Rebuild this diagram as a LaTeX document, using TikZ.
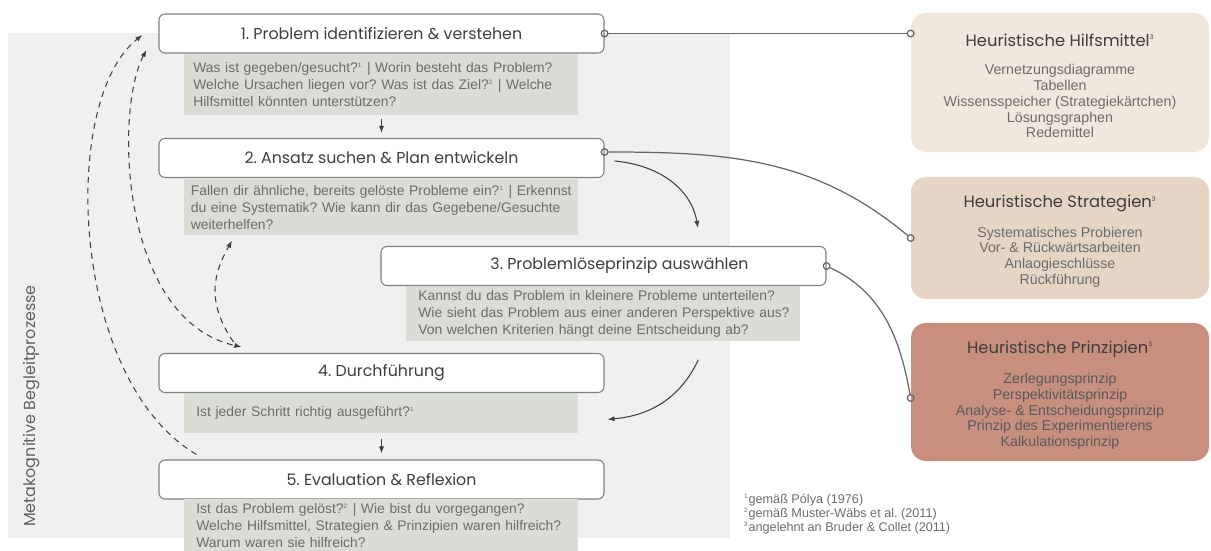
\documentclass[tikz,border=0pt]{standalone}
\usepackage{fontspec}
\setmainfont{Liberation Sans}
\newfontfamily\headfont{Poppins}
\usetikzlibrary{positioning}
\usetikzlibrary{arrows.meta}
\usepackage{xcolor}

\definecolor{bgcol}{HTML}{F0F0F0}
\definecolor{qcol}{HTML}{DADDD6}
\definecolor{framecol}{HTML}{7B817B}
\definecolor{linecol}{HTML}{666666}
\definecolor{headcol}{HTML}{3E3E3E}
\definecolor{txtcol}{HTML}{6C6C6C}
\definecolor{hilfcol}{HTML}{F1E7DD}
\definecolor{stratcol}{HTML}{E6D5C4}
\definecolor{prinzcol}{HTML}{C98F7E}

\newcommand{\fnmark}[1]{\textsuperscript{\fontsize{3.6}{4}\selectfont #1}}
\frenchspacing

\begin{document}
\begin{tikzpicture}[x=0.2mm, y=-0.2mm,
    stepbox/.style={draw=framecol, line width=0.6pt, fill=white, rounded corners=1.2mm, minimum width=89mm, minimum height=7.8mm, text=headcol, font=\headfont\fontsize{9}{10}\selectfont},
    qbox/.style={fill=qcol, anchor=north west, minimum width=78.8mm, inner xsep=2.4mm, inner ysep=0pt, text width=74mm, align=left, text=txtcol, font=\fontsize{7.9}{9.7}\selectfont},
    heurbox/.style={rounded corners=3mm, minimum width=59.6mm, align=center, text=txtcol, font=\fontsize{8.1}{9}\selectfont},
    link/.style={draw=linecol, line width=0.7pt, {Circle[open,length=4.5pt]}-{Circle[open,length=4.5pt]}, shorten <=-2.25pt, shorten >=-2.25pt},
    flow/.style={draw=black!75, line width=0.6pt, -{Latex[length=4pt,width=3pt]}},
    back/.style={flow, dash pattern=on 3.4pt off 2.8pt}]
    \useasboundingbox (0,0) rectangle (1211,551);
    \fill[bgcol] (8,33) rectangle (730,538);

    \node[rotate=90, text=black!62, font=\headfont\fontsize{9.1}{11}\selectfont] (meta) at (32,406) {Metakognitive Begleitprozesse};

    \node[stepbox] (s1) at (381.5,33.5) {1. Problem identifizieren \& verstehen};
    \node[qbox, minimum height=12.2mm, inner xsep=1.8mm, text width=75.2mm] (q1) at (184,54) {\mbox{Was ist gegeben/gesucht?\fnmark{1} | Worin besteht das Problem?}\\ \mbox{Welche Ursachen liegen vor? Was ist das Ziel?\fnmark{2} | Welche}\\ Hilfsmittel könnten unterstützen?};
    \node[stepbox] (s2) at (381.5,158) {2. Ansatz suchen \& Plan entwickeln};
    \node[qbox, minimum height=11.2mm, inner xsep=1.3mm, text width=76.2mm] (q2) at (184,179) {\mbox{Fallen dir ähnliche, bereits gelöste Probleme ein?\fnmark{1} | Erkennst}\\ \mbox{du eine Systematik? Wie kann dir das Gegebene/Gesuchte}\\ weiterhelfen?};
    \node[stepbox] (s3) at (603.5,266) {\hspace*{6.4mm}3. Problemlöseprinzip auswählen};
    \node[qbox, minimum height=11mm] (q3) at (406,286) {\mbox{Kannst du das Problem in kleinere Probleme unterteilen?}\\ \mbox{Wie sieht das Problem aus einer anderen Perspektive aus?}\\ \mbox{Von welchen Kriterien hängt deine Entscheidung ab?}};
    \node[stepbox] (s4) at (381.5,373) {4. Durchführung};
    \node[qbox, minimum height=8mm] (q4) at (184,393) {Ist jeder Schritt richtig ausgeführt?\fnmark{1}};
    \node[stepbox] (s5) at (381.5,479.5) {5. Evaluation \& Reflexion};
    \node[qbox, minimum height=10.4mm] (q5) at (184,499) {\mbox{Ist das Problem gelöst?\fnmark{2} | Wie bist du vorgegangen?}\\ \mbox{Welche Hilfsmittel, Strategien \& Prinzipien waren hilfreich?}\\ Warum waren sie hilfreich?};

    \node[heurbox, fill=hilfcol, minimum height=27.8mm] (hm) at (1060,82.5) {{\headfont\fontsize{9.3}{11}\selectfont\color{headcol}\rule{0pt}{11pt}Heuristische Hilfsmittel\fnmark{3}}\\[2.5mm]
        Vernetzungsdiagramme\\ Tabellen\\ Wissensspeicher (Strategiekärtchen)\\ Lösungsgraphen\\ Redemittel};
    \node[heurbox, fill=stratcol, minimum height=24.4mm] (hs) at (1060,238) {{\headfont\fontsize{9.3}{11}\selectfont\color{headcol}\rule{0pt}{11pt}Heuristische Strategien\fnmark{3}}\\[2.7mm]
        Systematisches Probieren\\ Vor- \& Rückwärtsarbeiten\\ Anlaogieschlüsse\\ Rückführung};
    \node[heurbox, fill=prinzcol, text=black!65, minimum height=27.6mm] (hp) at (1060,392) {{\headfont\fontsize{9.3}{11}\selectfont\color{headcol}\rule{0pt}{11pt}Heuristische Prinzipien\fnmark{3}}\\[2.8mm]
        Zerlegungsprinzip\\ Perspektivitätsprinzip\\ Analyse- \& Entscheidungsprinzip\\ Prinzip des Experimentierens\\ Kalkulationsprinzip};

    \node[anchor=west, align=left, text=txtcol, font=\fontsize{7.2}{6.8}\selectfont] (refs) at (738,514) {\lineskiplimit=-5pt\relax\fnmark{1}gemäß Pólya (1976)\\ \fnmark{2}gemäß Muster-Wäbs et al. (2011)\\ \fnmark{3}angelehnt an Bruder \& Collet (2011)};

    % Verbindungen zu den Heuristiken
    \coordinate (hm-in) at (hm.west |- s1.east);
    \draw[link] (s1.east) -- (hm-in);
    \draw[link] ([yshift=1.2mm]s2.east) to[out=0, in=140] (hs.west);
    \draw[link] (s3.east) to[out=-25, in=100] ([yshift=-1.2mm]hp.west);

    % Ablauf
    \draw[flow, shorten <=0.6mm, shorten >=1mm] (s1.center |- q1.south) -- (s2.north);
    \draw[flow, shorten <=1mm, shorten >=1.2mm] (s4.center |- q4.south) -- (s5.north);
    \draw[flow] ([xshift=2mm,yshift=-0.6mm]s2.east) to[out=-5, in=100] ([xshift=18.9mm,yshift=3.6mm]s3.north);
    \draw[flow] ([xshift=19mm,yshift=-3.6mm]q3.south) to[out=-115, in=5] ([xshift=0.6mm,yshift=-1.2mm]s4.east |- q4.east);

    % Begleitprozesse
    \draw[back] ([xshift=7.6mm,yshift=1mm]s5.north west) .. controls +(-127,-75) and +(-83,65) .. ([xshift=-3.2mm,yshift=-0.3mm]s1.west);
    \draw[back, {Latex[length=4pt,width=3pt]}-{Latex[length=4pt,width=3pt]}] ([xshift=-2.4mm,yshift=-3.3mm]s1.west) .. controls +(-32,60) and +(-122,-27) .. ([xshift=16.6mm,yshift=1.2mm]s4.north west);
    \draw[back] ([xshift=15mm,yshift=2.2mm]s4.north west) .. controls +(-29,-42) and +(-17,30) .. ([xshift=9.6mm,yshift=-1mm]q2.south west);
\end{tikzpicture}
\end{document}
